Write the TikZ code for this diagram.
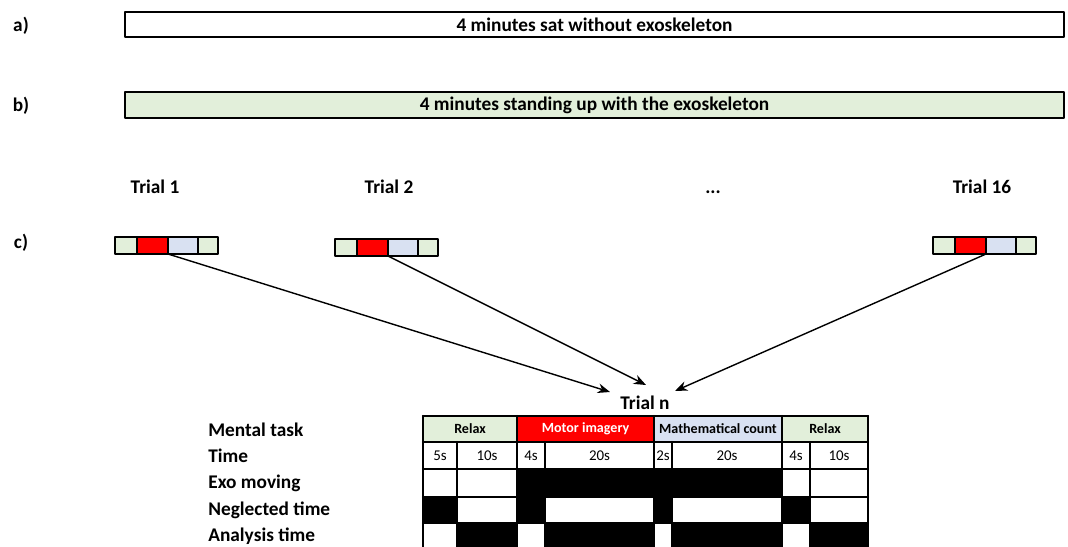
\documentclass[tikz,border=0pt]{standalone}
\usepackage{fontspec}
\setmainfont{Carlito}
\usetikzlibrary{arrows.meta}
\definecolor{relax}{RGB}{226,239,218}
\definecolor{motor}{RGB}{255,0,0}
\definecolor{maths}{RGB}{217,225,242}
\begin{document}
\begin{tikzpicture}[x=0.02cm,y=-0.02cm,font=\fontsize{11}{13}\selectfont\bfseries, line join=round, line cap=round, >={Stealth[length=7pt,width=5.5pt]},
	head/.style={font=\fontsize{8}{10}\selectfont\bfseries},
	secs/.style={font=\fontsize{8.5}{10}\selectfont},
	grid/.style={line width=1.3pt}]
	\useasboundingbox (0,0) rectangle (1068,547);
	\path 
	(21,26) node (la) {a)}
	(21,106) node (lb) {b)}
	(21,243) node (lc) {c)}
	(155,194) node[anchor=base] (tr1) {Trial 1}
	(389,194) node[anchor=base] (tr2) {Trial 2}
	(713,194) node[anchor=base] (dots) {...}
	(982,194) node[anchor=base] (tr16) {Trial 16}
	(645,403) node (trn) {Trial n}
	(610,392) coordinate (A)
	(646,385) coordinate (B)
	(675,391) coordinate (C)
	;
	\draw[line width=1pt] (125,12) rectangle (1064,37) node[midway] (sat) {4 minutes sat without exoskeleton};
	\draw[line width=1pt,fill=relax] (125,92) rectangle (1064,118) node[midway] (stand) {4 minutes standing up with the exoskeleton};
	\foreach \t/\x/\y in {1/115/237,2/335/239,16/933/237}{
		\draw[line width=0.7pt,fill=relax] (\x,\y) rectangle +(22,17);
		\draw[line width=0.7pt,fill=motor] (\x+22,\y) rectangle +(31,17);
		\draw[line width=0.7pt,fill=maths] (\x+53,\y) rectangle +(30,17);
		\draw[line width=0.7pt,fill=relax] (\x+83,\y) rectangle +(20,17);
		\path (\x+53,\y+17) coordinate (mi\t);
	}
	\draw[->,line width=0.8pt] (mi1)--(A);
	\draw[->,line width=0.8pt] (mi2)--(B);
	\draw[->,line width=0.8pt] (mi16)--(C);
	\foreach \y/\lab in {430/Mental task,456/Time,483/Exo moving,510/Neglected time,536/Analysis time}
	\node[anchor=west,inner sep=0pt] (row\y) at (208,\y) {\lab};
	\fill[relax] (423,416) rectangle (517,442);
	\fill[motor] (517,416) rectangle (654,442);
	\fill[maths] (654,416) rectangle (782,442);
	\fill[relax] (782,416) rectangle (868,442);
	\node[head] (relax1) at (470,429) {Relax};
	\node[head,white] (mi) at (585.5,429) {Motor imagery};
	\node[head] (mc) at (718,429) {Mathematical count};
	\node[head] (relax2) at (825,429) {Relax};
	\foreach \a/\b/\s in {423/457/5s,457/517/10s,517/545/4s,545/654/20s,654/672/2s,672/782/20s,782/810/4s,810/868/10s}
	\node[secs] at ({(\a+\b)/2},456) {\s};
	\fill (517,469) rectangle (782,497);
	\foreach \a/\b in {423/457,517/545,654/672,782/810}
	\fill (\a,497) rectangle (\b,523);
	\foreach \a/\b in {457/517,545/654,672/782,810/868}
	\fill (\a,523) rectangle (\b,550);
	\foreach \y in {416,442,469,497,523}
	\draw[grid] (423,\y)--(868,\y);
	\draw[grid] (423,416)--(423,550) (868,416)--(868,550);
	\foreach \x in {517,654,782}
	\draw[grid] (\x,416)--(\x,442);
	\foreach \x in {457,517,545,654,672,782,810}
	\draw[grid] (\x,442)--(\x,550);
\end{tikzpicture}
\end{document}
